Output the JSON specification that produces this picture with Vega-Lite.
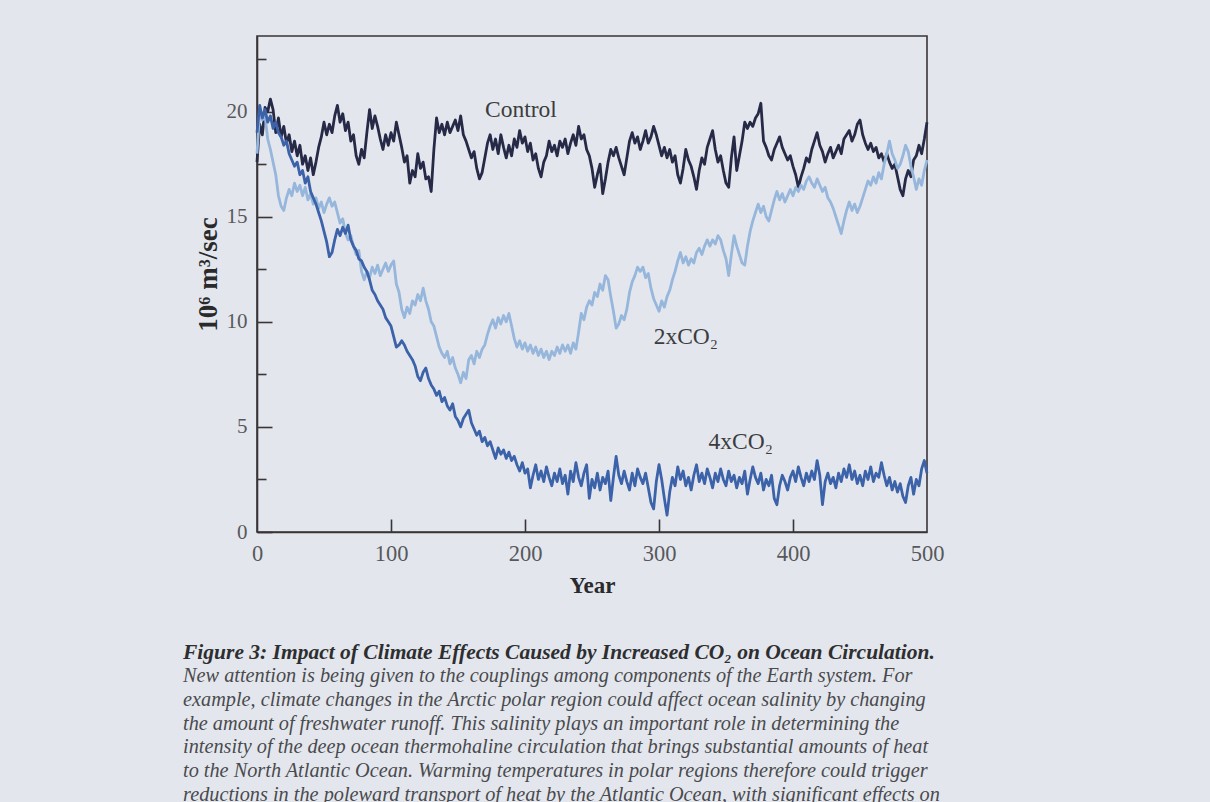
{
  "$schema": "https://vega.github.io/schema/vega-lite/v6.json",
  "autosize": "none",
  "width": 670,
  "height": 496,
  "padding": {"left": 257, "top": 36, "right": 283, "bottom": 270},
  "background": "#e3e7ed",
  "config": {
    "view": {"stroke": "#3a3436", "strokeWidth": 1.6, "fill": "#e3e7ed"},
    "font": "Liberation Serif"
  },
  "title": {
    "text": "Figure 3: Impact of Climate Effects Caused by Increased CO₂ on Ocean Circulation.",
    "subtitle": [
      "New attention is being given to the couplings among components of the Earth system. For",
      "example, climate changes in the Arctic polar region could affect ocean salinity by changing",
      "the amount of freshwater runoff. This salinity plays an important role in determining the",
      "intensity of the deep ocean thermohaline circulation that brings substantial amounts of heat",
      "to the North Atlantic Ocean. Warming temperatures in polar regions therefore could trigger",
      "reductions in the poleward transport of heat by the Atlantic Ocean, with significant effects on"
    ],
    "orient": "bottom",
    "anchor": "start",
    "frame": "group",
    "dx": -74,
    "offset": 44,
    "font": "Liberation Serif",
    "fontSize": 21.5,
    "fontStyle": "italic",
    "fontWeight": "bold",
    "color": "#2e2e30",
    "subtitleFont": "Liberation Serif",
    "subtitleFontSize": 20.3,
    "subtitleFontStyle": "italic",
    "subtitleColor": "#4a4a4e",
    "subtitleLineHeight": 23.8,
    "subtitlePadding": 3
  },
  "datasets": {
    "series": [
{"series":"Control","year":0,"value":17.6},{"series":"Control","year":2,"value":19.4},{"series":"Control","year":4,"value":18.9},{"series":"Control","year":6,"value":20.2},{"series":"Control","year":8,"value":20.0},{"series":"Control","year":10,"value":20.6},{"series":"Control","year":12,"value":20.1},{"series":"Control","year":14,"value":19.0},{"series":"Control","year":16,"value":19.7},{"series":"Control","year":18,"value":18.8},
{"series":"Control","year":20,"value":19.3},{"series":"Control","year":22,"value":18.5},{"series":"Control","year":24,"value":18.9},{"series":"Control","year":26,"value":18.1},{"series":"Control","year":28,"value":18.6},{"series":"Control","year":30,"value":17.9},{"series":"Control","year":32,"value":18.4},{"series":"Control","year":34,"value":17.5},{"series":"Control","year":36,"value":17.9},{"series":"Control","year":38,"value":17.2},
{"series":"Control","year":40,"value":17.8},{"series":"Control","year":42,"value":17.0},{"series":"Control","year":44,"value":17.6},{"series":"Control","year":46,"value":18.3},{"series":"Control","year":48,"value":18.8},{"series":"Control","year":50,"value":19.5},{"series":"Control","year":52,"value":18.9},{"series":"Control","year":54,"value":19.4},{"series":"Control","year":56,"value":19.0},{"series":"Control","year":58,"value":19.8},
{"series":"Control","year":60,"value":20.3},{"series":"Control","year":62,"value":19.5},{"series":"Control","year":64,"value":19.9},{"series":"Control","year":66,"value":19.1},{"series":"Control","year":68,"value":19.5},{"series":"Control","year":70,"value":18.6},{"series":"Control","year":72,"value":18.9},{"series":"Control","year":74,"value":17.9},{"series":"Control","year":76,"value":17.5},{"series":"Control","year":78,"value":18.2},
{"series":"Control","year":80,"value":17.8},{"series":"Control","year":82,"value":19.0},{"series":"Control","year":84,"value":20.1},{"series":"Control","year":86,"value":19.2},{"series":"Control","year":88,"value":19.8},{"series":"Control","year":90,"value":19.3},{"series":"Control","year":92,"value":18.7},{"series":"Control","year":94,"value":18.2},{"series":"Control","year":96,"value":18.9},{"series":"Control","year":98,"value":18.4},
{"series":"Control","year":100,"value":19.0},{"series":"Control","year":102,"value":18.6},{"series":"Control","year":104,"value":19.5},{"series":"Control","year":106,"value":18.9},{"series":"Control","year":108,"value":18.3},{"series":"Control","year":110,"value":17.6},{"series":"Control","year":112,"value":17.9},{"series":"Control","year":114,"value":16.6},{"series":"Control","year":116,"value":17.2},{"series":"Control","year":118,"value":16.9},
{"series":"Control","year":120,"value":18.0},{"series":"Control","year":122,"value":17.3},{"series":"Control","year":124,"value":17.6},{"series":"Control","year":126,"value":16.8},{"series":"Control","year":128,"value":16.9},{"series":"Control","year":130,"value":16.2},{"series":"Control","year":132,"value":18.2},{"series":"Control","year":134,"value":19.7},{"series":"Control","year":136,"value":19.0},{"series":"Control","year":138,"value":19.4},
{"series":"Control","year":140,"value":18.9},{"series":"Control","year":142,"value":19.5},{"series":"Control","year":144,"value":19.0},{"series":"Control","year":146,"value":19.3},{"series":"Control","year":148,"value":19.6},{"series":"Control","year":150,"value":19.1},{"series":"Control","year":152,"value":19.8},{"series":"Control","year":154,"value":18.9},{"series":"Control","year":156,"value":18.6},{"series":"Control","year":158,"value":18.2},
{"series":"Control","year":160,"value":17.8},{"series":"Control","year":162,"value":18.1},{"series":"Control","year":164,"value":17.3},{"series":"Control","year":166,"value":16.8},{"series":"Control","year":168,"value":17.1},{"series":"Control","year":170,"value":17.8},{"series":"Control","year":172,"value":18.5},{"series":"Control","year":174,"value":18.9},{"series":"Control","year":176,"value":18.2},{"series":"Control","year":178,"value":18.7},
{"series":"Control","year":180,"value":18.0},{"series":"Control","year":182,"value":18.9},{"series":"Control","year":184,"value":18.3},{"series":"Control","year":186,"value":17.8},{"series":"Control","year":188,"value":18.4},{"series":"Control","year":190,"value":17.9},{"series":"Control","year":192,"value":18.7},{"series":"Control","year":194,"value":18.3},{"series":"Control","year":196,"value":19.1},{"series":"Control","year":198,"value":18.5},
{"series":"Control","year":200,"value":18.8},{"series":"Control","year":202,"value":18.1},{"series":"Control","year":204,"value":18.5},{"series":"Control","year":206,"value":17.7},{"series":"Control","year":208,"value":18.0},{"series":"Control","year":210,"value":17.3},{"series":"Control","year":212,"value":16.9},{"series":"Control","year":214,"value":17.6},{"series":"Control","year":216,"value":17.9},{"series":"Control","year":218,"value":18.6},
{"series":"Control","year":220,"value":18.1},{"series":"Control","year":222,"value":18.4},{"series":"Control","year":224,"value":17.9},{"series":"Control","year":226,"value":18.6},{"series":"Control","year":228,"value":18.3},{"series":"Control","year":230,"value":18.7},{"series":"Control","year":232,"value":18.0},{"series":"Control","year":234,"value":18.5},{"series":"Control","year":236,"value":18.9},{"series":"Control","year":238,"value":18.4},
{"series":"Control","year":240,"value":19.3},{"series":"Control","year":242,"value":18.7},{"series":"Control","year":244,"value":18.9},{"series":"Control","year":246,"value":18.2},{"series":"Control","year":248,"value":17.9},{"series":"Control","year":250,"value":17.3},{"series":"Control","year":252,"value":16.4},{"series":"Control","year":254,"value":17.0},{"series":"Control","year":256,"value":17.5},{"series":"Control","year":258,"value":16.1},
{"series":"Control","year":260,"value":16.8},{"series":"Control","year":262,"value":17.6},{"series":"Control","year":264,"value":18.2},{"series":"Control","year":266,"value":17.9},{"series":"Control","year":268,"value":18.3},{"series":"Control","year":270,"value":17.8},{"series":"Control","year":272,"value":17.4},{"series":"Control","year":274,"value":17.0},{"series":"Control","year":276,"value":17.8},{"series":"Control","year":278,"value":18.6},
{"series":"Control","year":280,"value":19.0},{"series":"Control","year":282,"value":18.5},{"series":"Control","year":284,"value":18.8},{"series":"Control","year":286,"value":18.2},{"series":"Control","year":288,"value":18.6},{"series":"Control","year":290,"value":19.1},{"series":"Control","year":292,"value":18.5},{"series":"Control","year":294,"value":18.8},{"series":"Control","year":296,"value":19.3},{"series":"Control","year":298,"value":18.9},
{"series":"Control","year":300,"value":18.4},{"series":"Control","year":302,"value":17.9},{"series":"Control","year":304,"value":18.3},{"series":"Control","year":306,"value":17.8},{"series":"Control","year":308,"value":18.2},{"series":"Control","year":310,"value":17.6},{"series":"Control","year":312,"value":17.9},{"series":"Control","year":314,"value":17.0},{"series":"Control","year":316,"value":16.6},{"series":"Control","year":318,"value":17.3},
{"series":"Control","year":320,"value":18.2},{"series":"Control","year":322,"value":17.7},{"series":"Control","year":324,"value":17.4},{"series":"Control","year":326,"value":16.9},{"series":"Control","year":328,"value":16.3},{"series":"Control","year":330,"value":17.2},{"series":"Control","year":332,"value":17.8},{"series":"Control","year":334,"value":17.5},{"series":"Control","year":336,"value":18.3},{"series":"Control","year":338,"value":18.7},
{"series":"Control","year":340,"value":19.1},{"series":"Control","year":342,"value":18.2},{"series":"Control","year":344,"value":17.6},{"series":"Control","year":346,"value":17.9},{"series":"Control","year":348,"value":17.2},{"series":"Control","year":350,"value":16.6},{"series":"Control","year":352,"value":16.4},{"series":"Control","year":354,"value":17.8},{"series":"Control","year":356,"value":18.8},{"series":"Control","year":358,"value":17.2},
{"series":"Control","year":360,"value":17.9},{"series":"Control","year":362,"value":18.6},{"series":"Control","year":364,"value":19.5},{"series":"Control","year":366,"value":19.2},{"series":"Control","year":368,"value":19.5},{"series":"Control","year":370,"value":19.3},{"series":"Control","year":372,"value":19.7},{"series":"Control","year":374,"value":19.9},{"series":"Control","year":376,"value":20.4},{"series":"Control","year":378,"value":18.6},
{"series":"Control","year":380,"value":18.3},{"series":"Control","year":382,"value":17.9},{"series":"Control","year":384,"value":17.7},{"series":"Control","year":386,"value":18.2},{"series":"Control","year":388,"value":18.5},{"series":"Control","year":390,"value":18.8},{"series":"Control","year":392,"value":18.3},{"series":"Control","year":394,"value":18.0},{"series":"Control","year":396,"value":17.7},{"series":"Control","year":398,"value":17.9},
{"series":"Control","year":400,"value":17.4},{"series":"Control","year":402,"value":17.0},{"series":"Control","year":404,"value":16.4},{"series":"Control","year":406,"value":16.9},{"series":"Control","year":408,"value":17.3},{"series":"Control","year":410,"value":17.8},{"series":"Control","year":412,"value":17.6},{"series":"Control","year":414,"value":18.2},{"series":"Control","year":416,"value":18.6},{"series":"Control","year":418,"value":19.0},
{"series":"Control","year":420,"value":18.4},{"series":"Control","year":422,"value":18.1},{"series":"Control","year":424,"value":17.6},{"series":"Control","year":426,"value":18.0},{"series":"Control","year":428,"value":18.3},{"series":"Control","year":430,"value":17.8},{"series":"Control","year":432,"value":18.1},{"series":"Control","year":434,"value":18.4},{"series":"Control","year":436,"value":18.0},{"series":"Control","year":438,"value":18.7},
{"series":"Control","year":440,"value":18.9},{"series":"Control","year":442,"value":19.1},{"series":"Control","year":444,"value":18.6},{"series":"Control","year":446,"value":18.9},{"series":"Control","year":448,"value":19.4},{"series":"Control","year":450,"value":19.6},{"series":"Control","year":452,"value":18.9},{"series":"Control","year":454,"value":18.5},{"series":"Control","year":456,"value":18.2},{"series":"Control","year":458,"value":18.5},
{"series":"Control","year":460,"value":18.1},{"series":"Control","year":462,"value":18.3},{"series":"Control","year":464,"value":17.8},{"series":"Control","year":466,"value":18.0},{"series":"Control","year":468,"value":17.6},{"series":"Control","year":470,"value":18.0},{"series":"Control","year":472,"value":17.6},{"series":"Control","year":474,"value":17.3},{"series":"Control","year":476,"value":17.5},{"series":"Control","year":478,"value":16.9},
{"series":"Control","year":480,"value":16.3},{"series":"Control","year":482,"value":16.0},{"series":"Control","year":484,"value":16.8},{"series":"Control","year":486,"value":17.2},{"series":"Control","year":488,"value":16.9},{"series":"Control","year":490,"value":17.7},{"series":"Control","year":492,"value":17.9},{"series":"Control","year":494,"value":18.4},{"series":"Control","year":496,"value":18.0},{"series":"Control","year":498,"value":18.7},
{"series":"Control","year":500,"value":19.5},
{"series":"2x","year":0,"value":18.0},{"series":"2x","year":2,"value":20.0},{"series":"2x","year":4,"value":19.6},{"series":"2x","year":6,"value":19.8},{"series":"2x","year":8,"value":18.7},{"series":"2x","year":10,"value":18.2},{"series":"2x","year":12,"value":17.6},{"series":"2x","year":14,"value":17.0},{"series":"2x","year":16,"value":16.0},{"series":"2x","year":18,"value":15.5},
{"series":"2x","year":20,"value":15.3},{"series":"2x","year":22,"value":15.9},{"series":"2x","year":24,"value":16.3},{"series":"2x","year":26,"value":16.0},{"series":"2x","year":28,"value":16.6},{"series":"2x","year":30,"value":16.2},{"series":"2x","year":32,"value":16.5},{"series":"2x","year":34,"value":16.0},{"series":"2x","year":36,"value":16.4},{"series":"2x","year":38,"value":15.8},
{"series":"2x","year":40,"value":16.1},{"series":"2x","year":42,"value":15.6},{"series":"2x","year":44,"value":15.9},{"series":"2x","year":46,"value":15.4},{"series":"2x","year":48,"value":15.7},{"series":"2x","year":50,"value":15.2},{"series":"2x","year":52,"value":15.6},{"series":"2x","year":54,"value":15.9},{"series":"2x","year":56,"value":15.5},{"series":"2x","year":58,"value":15.7},
{"series":"2x","year":60,"value":15.2},{"series":"2x","year":62,"value":14.7},{"series":"2x","year":64,"value":14.9},{"series":"2x","year":66,"value":14.2},{"series":"2x","year":68,"value":13.9},{"series":"2x","year":70,"value":14.1},{"series":"2x","year":72,"value":13.6},{"series":"2x","year":74,"value":13.2},{"series":"2x","year":76,"value":13.4},{"series":"2x","year":78,"value":12.4},
{"series":"2x","year":80,"value":12.0},{"series":"2x","year":82,"value":12.4},{"series":"2x","year":84,"value":12.1},{"series":"2x","year":86,"value":12.6},{"series":"2x","year":88,"value":12.3},{"series":"2x","year":90,"value":12.7},{"series":"2x","year":92,"value":12.2},{"series":"2x","year":94,"value":12.5},{"series":"2x","year":96,"value":12.8},{"series":"2x","year":98,"value":12.4},
{"series":"2x","year":100,"value":12.7},{"series":"2x","year":102,"value":12.9},{"series":"2x","year":104,"value":11.8},{"series":"2x","year":106,"value":11.4},{"series":"2x","year":108,"value":10.6},{"series":"2x","year":110,"value":10.2},{"series":"2x","year":112,"value":10.7},{"series":"2x","year":114,"value":10.4},{"series":"2x","year":116,"value":11.0},{"series":"2x","year":118,"value":10.8},
{"series":"2x","year":120,"value":11.3},{"series":"2x","year":122,"value":11.0},{"series":"2x","year":124,"value":11.6},{"series":"2x","year":126,"value":11.0},{"series":"2x","year":128,"value":10.6},{"series":"2x","year":130,"value":10.0},{"series":"2x","year":132,"value":9.8},{"series":"2x","year":134,"value":9.3},{"series":"2x","year":136,"value":8.8},{"series":"2x","year":138,"value":8.5},
{"series":"2x","year":140,"value":8.3},{"series":"2x","year":142,"value":8.6},{"series":"2x","year":144,"value":8.0},{"series":"2x","year":146,"value":8.3},{"series":"2x","year":148,"value":7.8},{"series":"2x","year":150,"value":7.5},{"series":"2x","year":152,"value":7.1},{"series":"2x","year":154,"value":7.6},{"series":"2x","year":156,"value":7.3},{"series":"2x","year":158,"value":8.2},
{"series":"2x","year":160,"value":8.4},{"series":"2x","year":162,"value":8.0},{"series":"2x","year":164,"value":8.6},{"series":"2x","year":166,"value":8.3},{"series":"2x","year":168,"value":8.7},{"series":"2x","year":170,"value":8.9},{"series":"2x","year":172,"value":9.4},{"series":"2x","year":174,"value":9.8},{"series":"2x","year":176,"value":10.1},{"series":"2x","year":178,"value":9.7},
{"series":"2x","year":180,"value":10.2},{"series":"2x","year":182,"value":9.9},{"series":"2x","year":184,"value":10.3},{"series":"2x","year":186,"value":10.0},{"series":"2x","year":188,"value":10.4},{"series":"2x","year":190,"value":9.8},{"series":"2x","year":192,"value":9.2},{"series":"2x","year":194,"value":8.8},{"series":"2x","year":196,"value":9.1},{"series":"2x","year":198,"value":8.7},
{"series":"2x","year":200,"value":9.0},{"series":"2x","year":202,"value":8.6},{"series":"2x","year":204,"value":8.9},{"series":"2x","year":206,"value":8.5},{"series":"2x","year":208,"value":8.8},{"series":"2x","year":210,"value":8.4},{"series":"2x","year":212,"value":8.7},{"series":"2x","year":214,"value":8.3},{"series":"2x","year":216,"value":8.6},{"series":"2x","year":218,"value":8.2},
{"series":"2x","year":220,"value":8.6},{"series":"2x","year":222,"value":8.4},{"series":"2x","year":224,"value":8.8},{"series":"2x","year":226,"value":8.5},{"series":"2x","year":228,"value":8.9},{"series":"2x","year":230,"value":8.6},{"series":"2x","year":232,"value":8.9},{"series":"2x","year":234,"value":8.5},{"series":"2x","year":236,"value":9.0},{"series":"2x","year":238,"value":8.7},
{"series":"2x","year":240,"value":9.5},{"series":"2x","year":242,"value":10.4},{"series":"2x","year":244,"value":10.1},{"series":"2x","year":246,"value":10.7},{"series":"2x","year":248,"value":11.0},{"series":"2x","year":250,"value":10.8},{"series":"2x","year":252,"value":11.4},{"series":"2x","year":254,"value":11.2},{"series":"2x","year":256,"value":11.8},{"series":"2x","year":258,"value":11.5},
{"series":"2x","year":260,"value":12.2},{"series":"2x","year":262,"value":12.0},{"series":"2x","year":264,"value":11.2},{"series":"2x","year":266,"value":10.5},{"series":"2x","year":268,"value":9.7},{"series":"2x","year":270,"value":9.9},{"series":"2x","year":272,"value":10.3},{"series":"2x","year":274,"value":10.1},{"series":"2x","year":276,"value":10.6},{"series":"2x","year":278,"value":11.4},
{"series":"2x","year":280,"value":11.9},{"series":"2x","year":282,"value":12.2},{"series":"2x","year":284,"value":12.6},{"series":"2x","year":286,"value":12.4},{"series":"2x","year":288,"value":12.6},{"series":"2x","year":290,"value":12.1},{"series":"2x","year":292,"value":12.3},{"series":"2x","year":294,"value":11.6},{"series":"2x","year":296,"value":11.1},{"series":"2x","year":298,"value":10.8},
{"series":"2x","year":300,"value":10.5},{"series":"2x","year":302,"value":11.0},{"series":"2x","year":304,"value":10.7},{"series":"2x","year":306,"value":11.2},{"series":"2x","year":308,"value":11.5},{"series":"2x","year":310,"value":12.0},{"series":"2x","year":312,"value":12.4},{"series":"2x","year":314,"value":12.9},{"series":"2x","year":316,"value":13.3},{"series":"2x","year":318,"value":12.8},
{"series":"2x","year":320,"value":13.1},{"series":"2x","year":322,"value":12.7},{"series":"2x","year":324,"value":13.0},{"series":"2x","year":326,"value":12.8},{"series":"2x","year":328,"value":13.3},{"series":"2x","year":330,"value":13.5},{"series":"2x","year":332,"value":13.2},{"series":"2x","year":334,"value":13.6},{"series":"2x","year":336,"value":13.9},{"series":"2x","year":338,"value":13.6},
{"series":"2x","year":340,"value":13.9},{"series":"2x","year":342,"value":13.7},{"series":"2x","year":344,"value":14.1},{"series":"2x","year":346,"value":13.9},{"series":"2x","year":348,"value":13.4},{"series":"2x","year":350,"value":13.0},{"series":"2x","year":352,"value":12.2},{"series":"2x","year":354,"value":13.2},{"series":"2x","year":356,"value":14.1},{"series":"2x","year":358,"value":13.6},
{"series":"2x","year":360,"value":13.2},{"series":"2x","year":362,"value":12.8},{"series":"2x","year":364,"value":12.7},{"series":"2x","year":366,"value":13.6},{"series":"2x","year":368,"value":14.3},{"series":"2x","year":370,"value":14.8},{"series":"2x","year":372,"value":15.2},{"series":"2x","year":374,"value":15.6},{"series":"2x","year":376,"value":15.2},{"series":"2x","year":378,"value":15.5},
{"series":"2x","year":380,"value":15.0},{"series":"2x","year":382,"value":14.8},{"series":"2x","year":384,"value":15.3},{"series":"2x","year":386,"value":15.8},{"series":"2x","year":388,"value":16.2},{"series":"2x","year":390,"value":15.8},{"series":"2x","year":392,"value":16.1},{"series":"2x","year":394,"value":15.7},{"series":"2x","year":396,"value":16.0},{"series":"2x","year":398,"value":16.3},
{"series":"2x","year":400,"value":16.0},{"series":"2x","year":402,"value":16.4},{"series":"2x","year":404,"value":16.2},{"series":"2x","year":406,"value":16.5},{"series":"2x","year":408,"value":16.3},{"series":"2x","year":410,"value":16.7},{"series":"2x","year":412,"value":16.9},{"series":"2x","year":414,"value":16.6},{"series":"2x","year":416,"value":16.4},{"series":"2x","year":418,"value":16.8},
{"series":"2x","year":420,"value":16.5},{"series":"2x","year":422,"value":16.2},{"series":"2x","year":424,"value":16.4},{"series":"2x","year":426,"value":15.9},{"series":"2x","year":428,"value":15.7},{"series":"2x","year":430,"value":15.4},{"series":"2x","year":432,"value":15.0},{"series":"2x","year":434,"value":14.6},{"series":"2x","year":436,"value":14.2},{"series":"2x","year":438,"value":14.8},
{"series":"2x","year":440,"value":15.3},{"series":"2x","year":442,"value":15.7},{"series":"2x","year":444,"value":15.3},{"series":"2x","year":446,"value":15.6},{"series":"2x","year":448,"value":15.2},{"series":"2x","year":450,"value":15.5},{"series":"2x","year":452,"value":15.9},{"series":"2x","year":454,"value":16.3},{"series":"2x","year":456,"value":16.7},{"series":"2x","year":458,"value":16.5},
{"series":"2x","year":460,"value":16.9},{"series":"2x","year":462,"value":16.6},{"series":"2x","year":464,"value":17.1},{"series":"2x","year":466,"value":16.8},{"series":"2x","year":468,"value":17.5},{"series":"2x","year":470,"value":18.0},{"series":"2x","year":472,"value":18.6},{"series":"2x","year":474,"value":18.0},{"series":"2x","year":476,"value":17.7},{"series":"2x","year":478,"value":17.3},
{"series":"2x","year":480,"value":17.5},{"series":"2x","year":482,"value":17.9},{"series":"2x","year":484,"value":18.4},{"series":"2x","year":486,"value":18.1},{"series":"2x","year":488,"value":17.4},{"series":"2x","year":490,"value":16.9},{"series":"2x","year":492,"value":16.3},{"series":"2x","year":494,"value":16.8},{"series":"2x","year":496,"value":16.5},{"series":"2x","year":498,"value":17.2},
{"series":"2x","year":500,"value":17.7},
{"series":"4x","year":0,"value":19.0},{"series":"4x","year":2,"value":20.3},{"series":"4x","year":4,"value":19.7},{"series":"4x","year":6,"value":20.1},{"series":"4x","year":8,"value":19.5},{"series":"4x","year":10,"value":19.8},{"series":"4x","year":12,"value":19.2},{"series":"4x","year":14,"value":19.5},{"series":"4x","year":16,"value":19.0},{"series":"4x","year":18,"value":18.8},
{"series":"4x","year":20,"value":18.4},{"series":"4x","year":22,"value":18.6},{"series":"4x","year":24,"value":18.0},{"series":"4x","year":26,"value":17.7},{"series":"4x","year":28,"value":17.4},{"series":"4x","year":30,"value":17.6},{"series":"4x","year":32,"value":17.0},{"series":"4x","year":34,"value":17.2},{"series":"4x","year":36,"value":16.6},{"series":"4x","year":38,"value":16.9},
{"series":"4x","year":40,"value":16.2},{"series":"4x","year":42,"value":15.9},{"series":"4x","year":44,"value":15.6},{"series":"4x","year":46,"value":15.2},{"series":"4x","year":48,"value":14.8},{"series":"4x","year":50,"value":14.3},{"series":"4x","year":52,"value":13.8},{"series":"4x","year":54,"value":13.1},{"series":"4x","year":56,"value":13.3},{"series":"4x","year":58,"value":13.9},
{"series":"4x","year":60,"value":14.4},{"series":"4x","year":62,"value":14.1},{"series":"4x","year":64,"value":14.5},{"series":"4x","year":66,"value":14.2},{"series":"4x","year":68,"value":14.6},{"series":"4x","year":70,"value":13.9},{"series":"4x","year":72,"value":13.6},{"series":"4x","year":74,"value":13.4},{"series":"4x","year":76,"value":13.0},{"series":"4x","year":78,"value":12.9},
{"series":"4x","year":80,"value":12.6},{"series":"4x","year":82,"value":12.4},{"series":"4x","year":84,"value":12.0},{"series":"4x","year":86,"value":11.5},{"series":"4x","year":88,"value":11.3},{"series":"4x","year":90,"value":11.0},{"series":"4x","year":92,"value":10.8},{"series":"4x","year":94,"value":10.6},{"series":"4x","year":96,"value":10.2},{"series":"4x","year":98,"value":10.0},
{"series":"4x","year":100,"value":9.8},{"series":"4x","year":102,"value":9.3},{"series":"4x","year":104,"value":8.8},{"series":"4x","year":106,"value":8.9},{"series":"4x","year":108,"value":9.1},{"series":"4x","year":110,"value":8.9},{"series":"4x","year":112,"value":8.6},{"series":"4x","year":114,"value":8.4},{"series":"4x","year":116,"value":8.2},{"series":"4x","year":118,"value":7.9},
{"series":"4x","year":120,"value":7.4},{"series":"4x","year":122,"value":7.2},{"series":"4x","year":124,"value":7.6},{"series":"4x","year":126,"value":7.8},{"series":"4x","year":128,"value":7.3},{"series":"4x","year":130,"value":7.0},{"series":"4x","year":132,"value":6.8},{"series":"4x","year":134,"value":6.5},{"series":"4x","year":136,"value":6.7},{"series":"4x","year":138,"value":6.2},
{"series":"4x","year":140,"value":6.4},{"series":"4x","year":142,"value":6.0},{"series":"4x","year":144,"value":5.8},{"series":"4x","year":146,"value":6.1},{"series":"4x","year":148,"value":5.5},{"series":"4x","year":150,"value":5.3},{"series":"4x","year":152,"value":5.0},{"series":"4x","year":154,"value":5.4},{"series":"4x","year":156,"value":5.6},{"series":"4x","year":158,"value":5.8},
{"series":"4x","year":160,"value":5.2},{"series":"4x","year":162,"value":4.9},{"series":"4x","year":164,"value":4.6},{"series":"4x","year":166,"value":4.8},{"series":"4x","year":168,"value":4.3},{"series":"4x","year":170,"value":4.5},{"series":"4x","year":172,"value":4.1},{"series":"4x","year":174,"value":4.3},{"series":"4x","year":176,"value":3.9},{"series":"4x","year":178,"value":3.5},
{"series":"4x","year":180,"value":4.0},{"series":"4x","year":182,"value":3.7},{"series":"4x","year":184,"value":3.9},{"series":"4x","year":186,"value":3.5},{"series":"4x","year":188,"value":3.8},{"series":"4x","year":190,"value":3.4},{"series":"4x","year":192,"value":3.6},{"series":"4x","year":194,"value":3.2},{"series":"4x","year":196,"value":2.9},{"series":"4x","year":198,"value":3.3},
{"series":"4x","year":200,"value":2.8},{"series":"4x","year":202,"value":3.0},{"series":"4x","year":204,"value":2.1},{"series":"4x","year":206,"value":2.7},{"series":"4x","year":208,"value":3.2},{"series":"4x","year":210,"value":2.5},{"series":"4x","year":212,"value":2.9},{"series":"4x","year":214,"value":2.4},{"series":"4x","year":216,"value":3.1},{"series":"4x","year":218,"value":2.6},
{"series":"4x","year":220,"value":2.2},{"series":"4x","year":222,"value":2.8},{"series":"4x","year":224,"value":2.4},{"series":"4x","year":226,"value":3.0},{"series":"4x","year":228,"value":2.3},{"series":"4x","year":230,"value":2.7},{"series":"4x","year":232,"value":1.8},{"series":"4x","year":234,"value":2.9},{"series":"4x","year":236,"value":2.4},{"series":"4x","year":238,"value":3.3},
{"series":"4x","year":240,"value":2.6},{"series":"4x","year":242,"value":2.2},{"series":"4x","year":244,"value":2.8},{"series":"4x","year":246,"value":3.2},{"series":"4x","year":248,"value":1.6},{"series":"4x","year":250,"value":2.5},{"series":"4x","year":252,"value":2.1},{"series":"4x","year":254,"value":2.8},{"series":"4x","year":256,"value":2.0},{"series":"4x","year":258,"value":2.6},
{"series":"4x","year":260,"value":2.3},{"series":"4x","year":262,"value":2.9},{"series":"4x","year":264,"value":1.5},{"series":"4x","year":266,"value":2.6},{"series":"4x","year":268,"value":3.6},{"series":"4x","year":270,"value":2.7},{"series":"4x","year":272,"value":2.3},{"series":"4x","year":274,"value":2.9},{"series":"4x","year":276,"value":2.4},{"series":"4x","year":278,"value":2.0},
{"series":"4x","year":280,"value":2.8},{"series":"4x","year":282,"value":2.2},{"series":"4x","year":284,"value":3.0},{"series":"4x","year":286,"value":2.6},{"series":"4x","year":288,"value":2.3},{"series":"4x","year":290,"value":2.8},{"series":"4x","year":292,"value":2.1},{"series":"4x","year":294,"value":1.4},{"series":"4x","year":296,"value":1.1},{"series":"4x","year":298,"value":2.4},
{"series":"4x","year":300,"value":3.2},{"series":"4x","year":302,"value":2.5},{"series":"4x","year":304,"value":1.6},{"series":"4x","year":306,"value":0.8},{"series":"4x","year":308,"value":1.9},{"series":"4x","year":310,"value":2.6},{"series":"4x","year":312,"value":2.2},{"series":"4x","year":314,"value":3.1},{"series":"4x","year":316,"value":2.5},{"series":"4x","year":318,"value":2.9},
{"series":"4x","year":320,"value":2.2},{"series":"4x","year":322,"value":2.6},{"series":"4x","year":324,"value":2.0},{"series":"4x","year":326,"value":2.7},{"series":"4x","year":328,"value":3.2},{"series":"4x","year":330,"value":2.4},{"series":"4x","year":332,"value":2.8},{"series":"4x","year":334,"value":2.3},{"series":"4x","year":336,"value":3.0},{"series":"4x","year":338,"value":2.6},
{"series":"4x","year":340,"value":2.1},{"series":"4x","year":342,"value":2.8},{"series":"4x","year":344,"value":2.4},{"series":"4x","year":346,"value":3.0},{"series":"4x","year":348,"value":2.5},{"series":"4x","year":350,"value":2.2},{"series":"4x","year":352,"value":2.9},{"series":"4x","year":354,"value":2.4},{"series":"4x","year":356,"value":2.7},{"series":"4x","year":358,"value":2.1},
{"series":"4x","year":360,"value":2.6},{"series":"4x","year":362,"value":2.3},{"series":"4x","year":364,"value":2.9},{"series":"4x","year":366,"value":1.8},{"series":"4x","year":368,"value":2.5},{"series":"4x","year":370,"value":3.1},{"series":"4x","year":372,"value":2.6},{"series":"4x","year":374,"value":2.3},{"series":"4x","year":376,"value":2.8},{"series":"4x","year":378,"value":2.0},
{"series":"4x","year":380,"value":2.5},{"series":"4x","year":382,"value":2.2},{"series":"4x","year":384,"value":2.7},{"series":"4x","year":386,"value":1.6},{"series":"4x","year":388,"value":1.3},{"series":"4x","year":390,"value":2.2},{"series":"4x","year":392,"value":2.7},{"series":"4x","year":394,"value":2.4},{"series":"4x","year":396,"value":2.0},{"series":"4x","year":398,"value":2.6},
{"series":"4x","year":400,"value":2.9},{"series":"4x","year":402,"value":2.4},{"series":"4x","year":404,"value":3.1},{"series":"4x","year":406,"value":2.6},{"series":"4x","year":408,"value":2.2},{"series":"4x","year":410,"value":2.8},{"series":"4x","year":412,"value":2.4},{"series":"4x","year":414,"value":2.9},{"series":"4x","year":416,"value":2.5},{"series":"4x","year":418,"value":3.4},
{"series":"4x","year":420,"value":2.7},{"series":"4x","year":422,"value":1.3},{"series":"4x","year":424,"value":2.4},{"series":"4x","year":426,"value":2.8},{"series":"4x","year":428,"value":2.3},{"series":"4x","year":430,"value":2.6},{"series":"4x","year":432,"value":2.1},{"series":"4x","year":434,"value":2.8},{"series":"4x","year":436,"value":2.4},{"series":"4x","year":438,"value":3.0},
{"series":"4x","year":440,"value":2.6},{"series":"4x","year":442,"value":3.2},{"series":"4x","year":444,"value":2.5},{"series":"4x","year":446,"value":2.9},{"series":"4x","year":448,"value":2.3},{"series":"4x","year":450,"value":2.7},{"series":"4x","year":452,"value":2.2},{"series":"4x","year":454,"value":2.9},{"series":"4x","year":456,"value":2.5},{"series":"4x","year":458,"value":3.1},
{"series":"4x","year":460,"value":2.4},{"series":"4x","year":462,"value":2.8},{"series":"4x","year":464,"value":2.6},{"series":"4x","year":466,"value":3.3},{"series":"4x","year":468,"value":2.7},{"series":"4x","year":470,"value":2.2},{"series":"4x","year":472,"value":2.6},{"series":"4x","year":474,"value":2.0},{"series":"4x","year":476,"value":2.4},{"series":"4x","year":478,"value":1.9},
{"series":"4x","year":480,"value":2.3},{"series":"4x","year":482,"value":1.7},{"series":"4x","year":484,"value":1.4},{"series":"4x","year":486,"value":2.2},{"series":"4x","year":488,"value":2.6},{"series":"4x","year":490,"value":1.8},{"series":"4x","year":492,"value":2.5},{"series":"4x","year":494,"value":2.2},{"series":"4x","year":496,"value":3.0},{"series":"4x","year":498,"value":3.4},
{"series":"4x","year":500,"value":2.8}
    ],
    "labels": [
      {"year": 197, "value": 20.1, "label": "Control"},
      {"year": 320, "value": 9.3, "label": "2xCO₂"},
      {"year": 361, "value": 4.3, "label": "4xCO₂"}
    ]
  },
  "data": {"name": "series"},
  "encoding": {
    "x": {
      "field": "year", "type": "quantitative",
      "scale": {"domain": [0, 500], "nice": false, "zero": false},
      "axis": {
        "title": "Year",
        "values": [0, 100, 200, 300, 400, 500],
        "grid": false,
        "domainColor": "#3a3436", "domainWidth": 1.6,
        "tickColor": "#3a3436", "tickWidth": 1.6,
        "tickSize": {"condition": {"test": "datum.value === 0 || datum.value === 500", "value": 0}, "value": -13},
        "labelPadding": {"condition": {"test": "datum.value === 0 || datum.value === 500", "value": 10}, "value": 23},
        "labelFont": "Liberation Serif", "labelFontSize": 22.5, "labelColor": "#58585c",
        "labelFlush": false, "labelOverlap": false, "labelBound": false,
        "titleFont": "Liberation Serif", "titleFontSize": 23, "titleFontWeight": "bold", "titleColor": "#2a2a2c",
        "titlePadding": 10
      }
    },
    "y": {
      "field": "value", "type": "quantitative",
      "scale": {"domain": [0, 23.6], "nice": false, "zero": false},
      "axis": {
        "title": "10⁶ m³/sec",
        "values": [0, 2.5, 5, 7.5, 10, 12.5, 15, 17.5, 20, 22.5],
        "labelExpr": "datum.value % 5 === 0 ? datum.label : ''",
        "grid": false,
        "domainColor": "#3a3436", "domainWidth": 1.6,
        "tickColor": "#3a3436", "tickWidth": 1.6,
        "tickSize": {"condition": {"test": "datum.value % 5 === 0", "value": -15}, "value": -9},
        "labelPadding": 25,
        "labelFont": "Liberation Serif", "labelFontSize": 21, "labelColor": "#58585c",
        "labelFlush": false, "labelOverlap": false, "labelBound": false,
        "titleFont": "Liberation Serif", "titleFontSize": 27, "titleFontWeight": "bold", "titleColor": "#2a2a2c",
        "titlePadding": 4,
        "titleY": 238
      }
    }
  },
  "layer": [
    {
      "transform": [{"filter": "datum.series === 'Control'"}],
      "mark": {"type": "line", "color": "#272a47", "strokeWidth": 2.8, "strokeJoin": "round"}
    },
    {
      "transform": [{"filter": "datum.series === '2x'"}],
      "mark": {"type": "line", "color": "#96b6dc", "strokeWidth": 2.8, "strokeJoin": "round"}
    },
    {
      "transform": [{"filter": "datum.series === '4x'"}],
      "mark": {"type": "line", "color": "#3c62a9", "strokeWidth": 2.8, "strokeJoin": "round"}
    },
    {
      "data": {"name": "labels"},
      "mark": {"type": "text", "font": "Liberation Serif", "fontSize": 23.5, "color": "#3c3c40", "align": "center", "baseline": "middle"},
      "encoding": {"text": {"field": "label", "type": "nominal"}}
    }
  ]
}
